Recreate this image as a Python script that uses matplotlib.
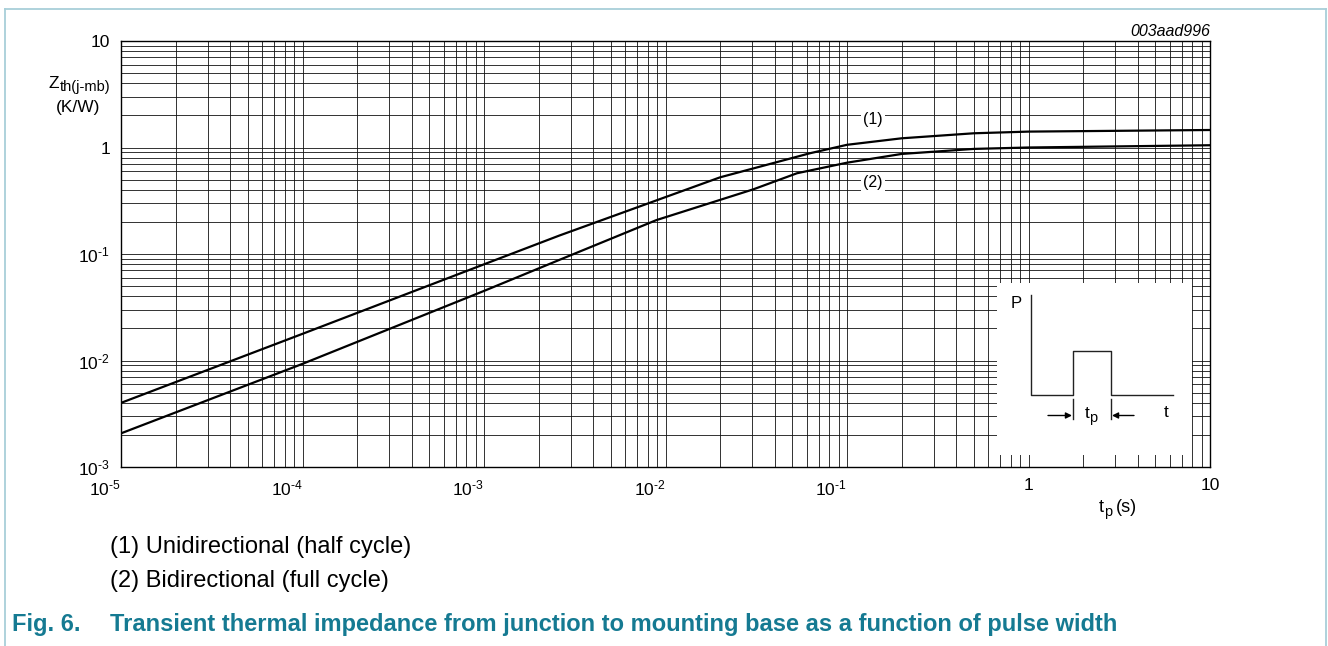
import numpy as np
import matplotlib
matplotlib.use('Agg')
import matplotlib.pyplot as plt
from matplotlib.lines import Line2D
from matplotlib.ticker import LogLocator, NullFormatter

plt.rcParams['font.family'] = ['Liberation Sans', 'DejaVu Sans']
plt.rcParams['mathtext.fontset'] = 'custom'
plt.rcParams['mathtext.rm'] = 'Liberation Sans'
plt.rcParams['mathtext.it'] = 'Liberation Sans:italic'
plt.rcParams['mathtext.bf'] = 'Liberation Sans:bold'

# ---- data ----
tp_1 = [1e-5, 1e-4, 1e-3, 2.6e-3, 0.02, 0.0625, 0.1, 0.2, 0.5, 1, 10]
zth_1 = [0.004, 0.0178, 0.080, 0.149, 0.525, 0.883, 1.06, 1.22, 1.36, 1.41, 1.46]
tp_2 = [1e-5, 1e-4, 1e-3, 2.6e-3, 0.0089, 0.0305, 0.053, 0.1, 0.2, 0.5, 1, 10]
zth_2 = [0.00207, 0.0093, 0.045, 0.088, 0.208, 0.405, 0.573, 0.72, 0.87, 0.97, 1.0, 1.05]

curve_labels = ['(1)', '(2)']
curve_label_x = [0.139, 0.139]
curve_label_y = [1.85, 0.474]

HY = '\u2010'
xticks = [1e-5, 1e-4, 1e-3, 1e-2, 1e-1, 1, 10]
xticklabels = [r'10$^{\mathregular{%s5}}$' % HY, r'10$^{\mathregular{%s4}}$' % HY, r'10$^{\mathregular{%s3}}$' % HY,
               r'10$^{\mathregular{%s2}}$' % HY, r'10$^{\mathregular{%s1}}$' % HY, '1', '10']
yticks = [1e-3, 1e-2, 1e-1, 1, 10]
yticklabels = [r'10$^{\mathregular{%s3}}$' % HY, r'10$^{\mathregular{%s2}}$' % HY,
               r'10$^{\mathregular{%s1}}$' % HY, '1', '10']

legend_lines = ['(1) Unidirectional (half cycle)', '(2) Bidirectional (full cycle)']
caption_num = 'Fig. 6.'
caption = 'Transient thermal impedance from junction to mounting base as a function of pulse width'
code_id = '003aad996'

W, H = 1328, 646
teal = '#157a92'
frame_col = '#a8cfd9'

fig = plt.figure(figsize=(W / 100, H / 100), dpi=100)

def fx(px):
    return px / W

def fy(py):
    return 1 - py / H

def chain(pieces, x, y, ha='left', **kw):
    """pieces: (text, fontsize, dy_px, gap_px); y is baseline in pixels from top."""
    texts = []
    for s, size, dy, gap in pieces:
        t = fig.text(fx(x), fy(y + dy), s, fontsize=size, ha='left', va='baseline', **kw)
        texts.append((t, gap))
    r = fig.canvas.get_renderer()
    widths = [t.get_window_extent(r).width for t, _ in texts]
    total = sum(widths) + sum(g for _, g in texts)
    if ha == 'right':
        cur = x - total
    elif ha == 'center':
        cur = x - total / 2
    else:
        cur = x
    for (t, gap), w in zip(texts, widths):
        cur += gap
        t.set_x(fx(cur))
        cur += w

ax = fig.add_axes([fx(121), fy(467), (1210 - 121) / W, (467 - 41) / H])
ax.set_xscale('log')
ax.set_yscale('log')
ax.set_xlim(1e-5, 10)
ax.set_ylim(1e-3, 10)
ax.set_axisbelow(True)

ax.xaxis.set_minor_locator(LogLocator(base=10, subs=np.arange(2, 10)))
ax.yaxis.set_minor_locator(LogLocator(base=10, subs=np.arange(2, 10)))
ax.xaxis.set_minor_formatter(NullFormatter())
ax.yaxis.set_minor_formatter(NullFormatter())
ax.grid(True, which='both', color='#111111', lw=0.6)

ax.set_xticks(xticks)
ax.set_xticklabels(xticklabels, fontsize=12.5)
ax.set_yticks(yticks)
ax.set_yticklabels(yticklabels, fontsize=12.5)
ax.tick_params(which='both', length=0)
ax.tick_params(axis='y', pad=8)
ax.tick_params(axis='x', pad=8)
for lab in ax.get_xticklabels():
    if '$' in lab.get_text():
        lab.set_ha('right')

for s in ax.spines.values():
    s.set_linewidth(1.0)
    s.set_color('black')

ax.plot(tp_1, zth_1, color='black', lw=1.6, zorder=3)
ax.plot(tp_2, zth_2, color='black', lw=1.6, zorder=3)

for t, x, y in zip(curve_labels, curve_label_x, curve_label_y):
    ax.text(x, y, t, fontsize=11.5, ha='center', va='center', zorder=4,
            bbox=dict(facecolor='white', edgecolor='none', pad=1.5))

# ---- inset pulse sketch (pixel coordinates of the figure) ----
ins = fig.add_axes([fx(997), fy(455), 195 / W, 172 / H])
ins.set_xlim(997, 1192)
ins.set_ylim(455, 283)
ins.set_facecolor('white')
for s in ins.spines.values():
    s.set_visible(False)
ins.set_xticks([])
ins.set_yticks([])
lc = '#222222'
ins.plot([1031, 1031, 1073, 1073, 1111, 1111, 1173], [295, 395, 395, 351, 351, 395, 395], color=lc, lw=1.0)
ins.plot([1073, 1073], [399, 419], color=lc, lw=1.0)
ins.plot([1111, 1111], [399, 419], color=lc, lw=1.0)
ins.annotate('', xy=(1072, 415.5), xytext=(1048, 415.5),
             arrowprops=dict(arrowstyle='-|>', color='black', lw=1.0, mutation_scale=9, shrinkA=0, shrinkB=0))
ins.annotate('', xy=(1112, 415.5), xytext=(1134, 415.5),
             arrowprops=dict(arrowstyle='-|>', color='black', lw=1.0, mutation_scale=9, shrinkA=0, shrinkB=0))
ins.text(1016.5, 303, 'P', fontsize=12, ha='center', va='center')
chain([('t', 12.5, 0, 0), ('p', 10.5, 4, 0)], 1091, 418, ha='center')
fig.text(fx(1166), fy(417), 't', fontsize=12.5, ha='center', va='baseline')

# ---- texts around ----
fig.text(fx(1210), fy(36), code_id, fontsize=11.5, style='italic', ha='right', va='baseline')
chain([('Z', 12.5, 0, 0), ('th(j-mb)', 10.5, 3.5, 0)], 110, 88, ha='right')
fig.text(fx(78), fy(112), '(K/W)', fontsize=12.5, ha='center', va='baseline')
chain([('t', 13, 0, 0), ('p', 10.5, 4, 0), ('(s)', 13, 0, 4)], 1118, 512, ha='center')

fig.text(fx(110), fy(553), legend_lines[0], fontsize=17, ha='left', va='baseline')
fig.text(fx(110), fy(587), legend_lines[1], fontsize=17, ha='left', va='baseline')

fig.text(fx(12), fy(631), caption_num, fontsize=17, fontweight='bold', color=teal, ha='left', va='baseline')
fig.text(fx(110), fy(631), caption, fontsize=17, fontweight='bold', color=teal, ha='left', va='baseline')

# ---- light frame ----
fig.add_artist(Line2D([fx(5), fx(5)], [0, fy(9)], transform=fig.transFigure, color=frame_col, lw=1.3))
fig.add_artist(Line2D([fx(5), fx(1326)], [fy(9), fy(9)], transform=fig.transFigure, color=frame_col, lw=1.3))
fig.add_artist(Line2D([fx(1326), fx(1326)], [fy(9), 0], transform=fig.transFigure, color=frame_col, lw=1.3))

fig.savefig('out.png', dpi=100)
